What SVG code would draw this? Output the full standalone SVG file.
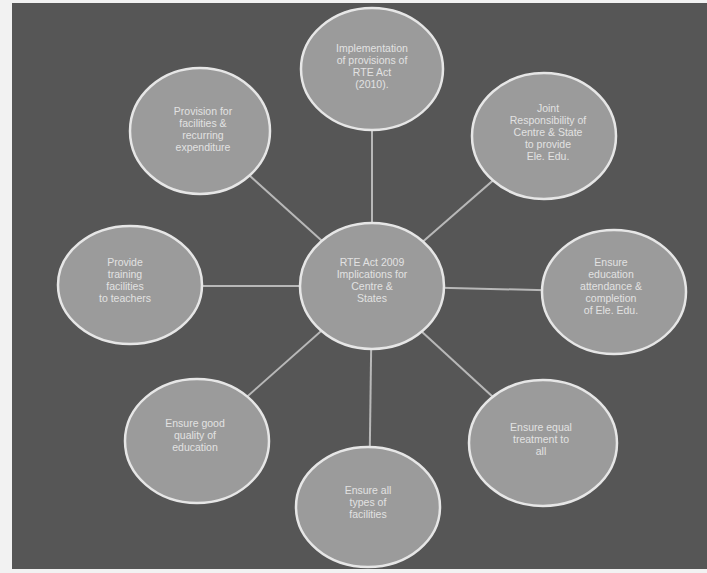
<svg xmlns="http://www.w3.org/2000/svg" width="707" height="573" viewBox="0 0 707 573">
<style>
.n ellipse{fill:#9b9b9b;stroke:#e6e6e6;stroke-width:2.5}
.n text{font-family:"Liberation Sans",Arial,sans-serif;font-size:10.5px;fill:#e2e2e2;text-anchor:middle}
.c line{stroke:#b8b8b8;stroke-width:2}
</style>
<rect x="0" y="0" width="707" height="573" fill="#f2f2f2"/>
<rect x="12" y="3" width="695" height="566" fill="#565656"/>
<g class="c" id="connectors">
<line x1="372" y1="286" x2="372" y2="69"/>
<line x1="372" y1="286" x2="544" y2="136"/>
<line x1="372" y1="286" x2="200" y2="131"/>
<line x1="372" y1="286" x2="614" y2="292"/>
<line x1="372" y1="286" x2="130" y2="286"/>
<line x1="372" y1="286" x2="543" y2="443"/>
<line x1="372" y1="286" x2="197" y2="441"/>
<line x1="372" y1="286" x2="369" y2="508"/>
</g>
<g class="n" id="n-top"><ellipse cx="372" cy="69" rx="71" ry="61"/>
<text x="372" y="52">Implementation</text><text x="372" y="64">of provisions of</text><text x="372" y="76">RTE Act</text><text x="372" y="88">(2010).</text></g>
<g class="n" id="n-topright"><ellipse cx="544" cy="136" rx="72" ry="63"/>
<text x="548" y="112">Joint</text><text x="548" y="124">Responsibility of</text><text x="548" y="136">Centre &amp; State</text><text x="548" y="148">to provide</text><text x="548" y="160">Ele. Edu.</text></g>
<g class="n" id="n-topleft"><ellipse cx="200" cy="131" rx="70" ry="63"/>
<text x="203" y="115">Provision for</text><text x="203" y="127">facilities &amp;</text><text x="203" y="139">recurring</text><text x="203" y="151">expenditure</text></g>
<g class="n" id="n-right"><ellipse cx="614" cy="292" rx="72" ry="62"/>
<text x="611" y="266">Ensure</text><text x="611" y="278">education</text><text x="611" y="290">attendance &amp;</text><text x="611" y="302">completion</text><text x="611" y="314">of Ele. Edu.</text></g>
<g class="n" id="n-left"><ellipse cx="130" cy="285" rx="72" ry="59"/>
<text x="125" y="266">Provide</text><text x="125" y="278">training</text><text x="125" y="290">facilities</text><text x="125" y="302">to teachers</text></g>
<g class="n" id="n-center"><ellipse cx="372" cy="286" rx="72" ry="63"/>
<text x="372" y="266">RTE Act 2009</text><text x="372" y="278">Implications for</text><text x="372" y="290">Centre &amp;</text><text x="372" y="302">States</text></g>
<g class="n" id="n-bottomright"><ellipse cx="543" cy="443" rx="74" ry="63"/>
<text x="541" y="431">Ensure equal</text><text x="541" y="443">treatment to</text><text x="541" y="455">all</text></g>
<g class="n" id="n-bottomleft"><ellipse cx="197" cy="441" rx="72" ry="62"/>
<text x="195" y="427">Ensure good</text><text x="195" y="439">quality of</text><text x="195" y="451">education</text></g>
<g class="n" id="n-bottom"><ellipse cx="368" cy="507" rx="72" ry="60"/>
<text x="368" y="494">Ensure all</text><text x="368" y="506">types of</text><text x="368" y="518">facilities</text></g>
</svg>
